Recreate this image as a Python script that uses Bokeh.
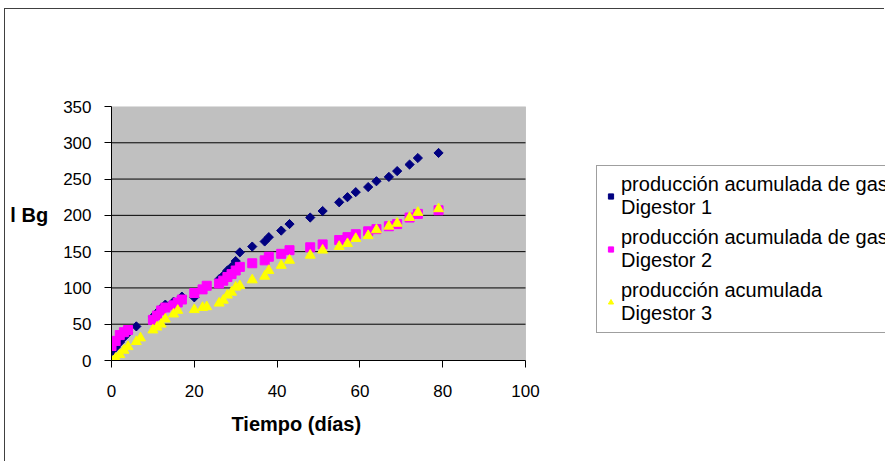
import math
from bokeh.plotting import figure
from bokeh.models import Legend, LegendItem, Title, FixedTicker, BoxAnnotation
from bokeh.embed import file_html
from bokeh.resources import INLINE

# ---- data ----
x_ticks = [0, 20, 40, 60, 80, 100]
y_ticks = [0, 50, 100, 150, 200, 250, 300, 350]

d1_days = [0, 1, 2, 3, 4, 6, 10, 11, 12, 13, 15, 17, 20, 26, 27, 28, 29, 30, 31,
           34, 37, 38, 41, 43, 48, 51, 55, 57, 59, 62, 64, 67, 69, 72, 74, 79]
d1_vals = [12, 18, 25, 32, 38, 47, 60, 66, 72, 77, 81, 88, 87, 112, 117, 124, 129, 137, 149,
           157, 164, 170, 179, 188, 197, 206, 218, 225, 232, 239, 247, 253, 261, 270, 279, 286]

d2_days = [0, 1, 2, 3, 4, 10, 11, 12, 13, 15, 16, 17, 20, 22, 23, 26, 27, 28, 29, 30, 31,
           34, 37, 38, 41, 43, 48, 51, 55, 57, 59, 62, 64, 67, 69, 72, 74, 79]
d2_vals = [20, 27, 35, 39, 42, 56, 62, 69, 73, 76, 80, 84, 93, 98, 103, 106, 110, 115, 119, 124, 129,
           134, 138, 143, 147, 152, 156, 160, 166, 170, 174, 178, 181, 185, 188, 197, 202, 207]

d3_days = [0, 1, 2, 3, 4, 6, 7, 10, 11, 12, 13, 15, 16, 20, 22, 23, 26, 27, 28, 29, 30, 31,
           34, 37, 38, 41, 43, 48, 51, 55, 57, 59, 62, 64, 67, 69, 72, 74, 79]
d3_vals = [0, 3, 8, 14, 19, 26, 31, 42, 46, 50, 57, 64, 69, 70, 73, 74, 79, 83, 90, 94, 101, 103,
           111, 116, 124, 131, 138, 145, 152, 157, 161, 168, 172, 180, 185, 189, 197, 204, 209]

labels = ["producción acumulada de gas\nDigestor 1",
          "producción acumulada de gas\nDigestor 2",
          "producción acumulada\nDigestor 3"]
x_title = "Tiempo (días)"
y_title = "l Bg"

FONT = "'Liberation Sans', Arial, sans-serif"

X_MAX = x_ticks[-1]
Y_MAX = y_ticks[-1]
PX_PER_DAY = 4.14
FRAME_W = 880 - 106
x_end = FRAME_W / PX_PER_DAY   # frame runs to the right edge so the legend is not clipped

# outer chart-area border drawn with CSS; the canvas is shifted accordingly
p = figure(width=880, height=453, output_backend="svg", toolbar_location=None,
           x_range=(0, x_end), y_range=(0, Y_MAX),
           min_border_left=106, min_border_right=0,
           min_border_top=97, min_border_bottom=102)
p.styles = {"margin-left": "4px", "margin-top": "8px",
            "border-left": "1px solid #404040", "border-top": "1px solid #404040"}
p.background_fill_color = "white"
p.border_fill_color = "white"
p.outline_line_color = None
p.xgrid.visible = False
p.ygrid.visible = False

# plot area (gray) limited to 0..100 days
p.add_layout(BoxAnnotation(left=0, right=X_MAX, bottom=0, top=Y_MAX,
                           fill_color="#C0C0C0", fill_alpha=1,
                           line_color="#808080", line_width=1, level="underlay"))
# horizontal gridlines inside the plot area
grid_y = y_ticks[1:-1]
p.segment(x0=[0] * len(grid_y), y0=grid_y, x1=[X_MAX] * len(grid_y), y1=grid_y,
          line_color="black", line_width=1)

p.xaxis.ticker = FixedTicker(ticks=x_ticks)
p.yaxis.ticker = FixedTicker(ticks=y_ticks)
p.xaxis[0].bounds = (0, X_MAX)
for ax in (p.xaxis[0], p.yaxis[0]):
    ax.axis_line_color = "black"
    ax.axis_line_width = 1
    ax.major_tick_line_color = "black"
    ax.major_tick_out = 7
    ax.major_tick_in = 0
    ax.minor_tick_line_color = None
    ax.major_label_text_font = FONT
    ax.major_label_text_font_size = "17px"
    ax.major_label_text_color = "black"
p.xaxis[0].major_label_standoff = 17
p.yaxis[0].major_label_standoff = 13

yax = p.yaxis[0]
yax.axis_label = y_title + "\n"
yax.axis_label_text_font = FONT
yax.axis_label_text_font_size = "20px"
yax.axis_label_text_font_style = "bold"
yax.axis_label_text_color = "black"
yax.axis_label_text_line_height = 1.7
yax.axis_label_standoff = 12
try:
    yax.axis_label_orientation = "horizontal"
except AttributeError:
    pass

r1 = p.scatter(d1_days, d1_vals, marker="square", angle=math.pi / 4, size=6.5,
               fill_color="#000080", line_color="#000080")
r2 = p.scatter(d2_days, d2_vals, marker="square", size=9,
               fill_color="#FF00FF", line_color="#FF00FF")
r3 = p.scatter(d3_days, d3_vals, marker="triangle", size=10,
               fill_color="#FFFF00", line_color="#FFFF00")

legend = Legend(items=[LegendItem(label=labels[0], renderers=[r1]),
                       LegendItem(label=labels[1], renderers=[r2]),
                       LegendItem(label=labels[2], renderers=[r3])],
                location=(485, 27))
legend.label_text_font = FONT
legend.label_text_font_size = "20px"
legend.label_text_color = "black"
legend.border_line_color = "#404040"
legend.border_line_width = 1
legend.background_fill_color = "white"
legend.background_fill_alpha = 1
legend.padding = 7
legend.spacing = 7
legend.glyph_width = 13
legend.glyph_height = 20
legend.label_standoff = 4
legend.margin = 0
p.add_layout(legend)

xt = Title(text=x_title, align="left", offset=120, standoff=23,
           text_font=FONT, text_font_size="20px", text_font_style="bold",
           text_color="black")
p.add_layout(xt, "below")

open("out.html", "w").write(file_html(p, INLINE))
